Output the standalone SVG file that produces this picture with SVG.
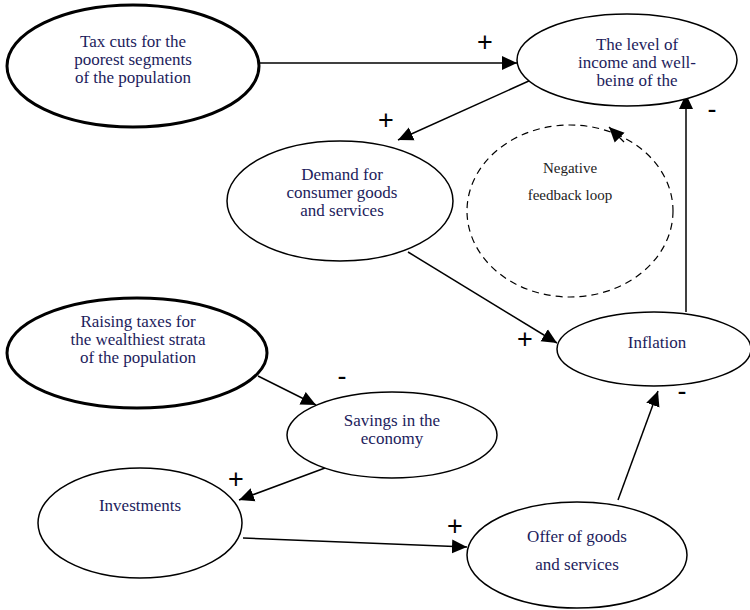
<svg xmlns="http://www.w3.org/2000/svg" width="750" height="610" viewBox="0 0 750 610">
  <defs>
    <marker id="arrow" markerUnits="userSpaceOnUse" markerWidth="16" markerHeight="16" viewBox="0 0 16 16" refX="15" refY="8" orient="auto">
      <path d="M0,1 L15,8 L0,15 Z" fill="#000"/>
    </marker>
    <clipPath id="clipLevel">
      <rect x="517" y="14" width="222" height="72"/>
    </clipPath>
    <style>
      .node { fill: #fff; stroke: #000; stroke-width: 1.5; }
      .bold { stroke-width: 3; }
      .edge { stroke: #000; stroke-width: 1.5; fill: none; marker-end: url(#arrow); }
      .lbl { font-family: 'Liberation Serif', 'Times New Roman', Times, serif; font-size: 17px; fill: #1c1c5c; text-anchor: middle; }
      .note { font-family: 'Liberation Serif', 'Times New Roman', Times, serif; font-size: 15px; fill: #222; text-anchor: middle; }
      .sign { font-family: 'Liberation Sans', Arial, sans-serif; font-size: 27px; fill: #000; text-anchor: middle; }
    </style>
  </defs>
  <rect width="750" height="610" fill="#fff"/>

  <!-- feedback loop annotation -->
  <g id="loop">
    <ellipse cx="570" cy="211" rx="103" ry="86" fill="none" stroke="#000" stroke-width="1.2" stroke-dasharray="7,5"/>
    <path d="M624,142 L609,127" stroke="#000" stroke-width="1.2" fill="none" marker-end="url(#arrow)"/>
    <text class="note" x="570" y="173">Negative</text>
    <text class="note" x="570" y="200">feedback loop</text>
  </g>

  <!-- connectors -->
  <g id="connectors">
    <line class="edge" x1="260" y1="63" x2="517" y2="63"/>
    <line class="edge" x1="531" y1="80" x2="398" y2="140"/>
    <line class="edge" x1="408" y1="252" x2="557" y2="343"/>
    <line class="edge" x1="686" y1="312" x2="686" y2="94"/>
    <line class="edge" x1="258" y1="376" x2="316" y2="405"/>
    <line class="edge" x1="325" y1="468" x2="239" y2="500"/>
    <line class="edge" x1="243" y1="538" x2="467" y2="547"/>
    <line class="edge" x1="618" y1="500" x2="658" y2="391"/>
  </g>

  <!-- signs -->
  <g id="signs">
    <text class="sign" x="485" y="51">+</text>
    <text class="sign" x="386" y="129">+</text>
    <text class="sign" x="525" y="348">+</text>
    <text class="sign" x="712" y="118">-</text>
    <text class="sign" x="342" y="385">-</text>
    <text class="sign" x="682" y="400">-</text>
    <text class="sign" x="236" y="488">+</text>
    <text class="sign" x="455" y="535">+</text>
  </g>

  <g id="tax-cuts">
    <ellipse class="node bold" cx="133" cy="66" rx="126" ry="61"/>
    <text class="lbl" x="133" y="47">Tax cuts for the</text>
    <text class="lbl" x="133" y="65">poorest segments</text>
    <text class="lbl" x="133" y="83">of the population</text>
  </g>

  <g id="income-level">
    <ellipse class="node" cx="627" cy="60" rx="110" ry="46"/>
    <g clip-path="url(#clipLevel)">
      <text class="lbl" x="637" y="50">The level of</text>
      <text class="lbl" x="637" y="68">income and well-</text>
      <text class="lbl" x="637" y="86">being of the</text>
    </g>
  </g>

  <g id="demand">
    <ellipse class="node" cx="340" cy="201" rx="113" ry="60"/>
    <text class="lbl" x="342" y="180">Demand for</text>
    <text class="lbl" x="342" y="198">consumer goods</text>
    <text class="lbl" x="342" y="216">and services</text>
  </g>

  <g id="raising-taxes">
    <ellipse class="node bold" cx="137" cy="353" rx="130" ry="55"/>
    <text class="lbl" x="138" y="327">Raising taxes for</text>
    <text class="lbl" x="138" y="345">the wealthiest strata</text>
    <text class="lbl" x="138" y="363">of the population</text>
  </g>

  <g id="inflation">
    <ellipse class="node" cx="654" cy="349" rx="97" ry="37"/>
    <text class="lbl" x="657" y="348">Inflation</text>
  </g>

  <g id="savings">
    <ellipse class="node" cx="392" cy="435" rx="105" ry="43"/>
    <text class="lbl" x="392" y="426">Savings in the</text>
    <text class="lbl" x="392" y="444">economy</text>
  </g>

  <g id="investments">
    <ellipse class="node" cx="140" cy="523" rx="102" ry="55"/>
    <text class="lbl" x="140" y="511">Investments</text>
  </g>

  <g id="offer">
    <ellipse class="node" cx="577" cy="555" rx="110" ry="53"/>
    <text class="lbl" x="577" y="542">Offer of goods</text>
    <text class="lbl" x="577" y="570">and services</text>
  </g>
</svg>
